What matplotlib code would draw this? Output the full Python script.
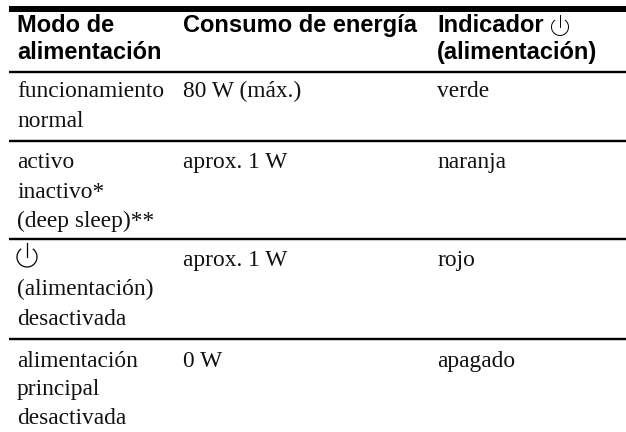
import matplotlib
matplotlib.use("Agg")
import matplotlib.pyplot as plt
from matplotlib.patches import Arc
from matplotlib.lines import Line2D

W, H = 626, 432
header1 = ["Modo de", "alimentación"]
header2 = ["Consumo de energía"]
header3 = ["Indicador", "(alimentación)"]
col1 = [["funcionamiento", "normal"], ["activo", "inactivo*", "(deep sleep)**"],
        ["(alimentación)", "desactivada"], ["alimentación", "principal", "desactivada"]]
col2 = ["80 W (máx.)", "aprox. 1 W", "aprox. 1 W", "0 W"]
col3 = ["verde", "naranja", "rojo", "apagado"]

rules = [(8.5, 6.0), (72, 2.4), (141, 2.4), (239, 2.4), (339, 2.4)]
header_base = [32, 59]
col1_base = [[97, 127], [168, 198, 227], [295, 325], [367, 395, 424]]
row_base = [97, 168, 266, 367]
x1, x2, x3 = 17, 183, 437

fig = plt.figure(figsize=(W/100, H/100), dpi=100)
ax = fig.add_axes([0, 0, 1, 1])
ax.set_xlim(0, W); ax.set_ylim(H, 0); ax.axis("off")
for y, px in rules:
    ax.add_line(Line2D([9, 626], [y, y], color="black", lw=px*0.72, solid_capstyle="butt"))
hf = dict(family="Liberation Sans", weight="bold", fontsize=17.0, va="baseline", ha="left", color="black")
bf = dict(family="Liberation Serif", fontsize=16.8, va="baseline", ha="left", color="#111111")
for t, y in zip(header1, header_base):
    ax.text(x1, y, t, **hf)
ax.text(x2, header_base[0], header2[0], **hf)
for t, y in zip(header3, header_base):
    ax.text(x3, y, t, **hf)
for rows, ys in zip(col1, col1_base):
    for t, y in zip(rows, ys):
        ax.text(x1, y, t, **bf)
for a, b, y in zip(col2, col3, row_base):
    ax.text(x2, y, a, **bf)
    ax.text(x3, y, b, **bf)

def power(cx, cy, r, top, lw):
    ax.add_patch(Arc((cx, cy), 2*r, 2*r, theta1=-55, theta2=235, lw=lw, color="black"))
    ax.add_line(Line2D([cx, cx], [top, cy], color="black", lw=lw))
power(560, 27, 8.5, 15, 0.7)
power(27, 257, 10, 243, 0.9)
fig.savefig("out.png", dpi=100)
